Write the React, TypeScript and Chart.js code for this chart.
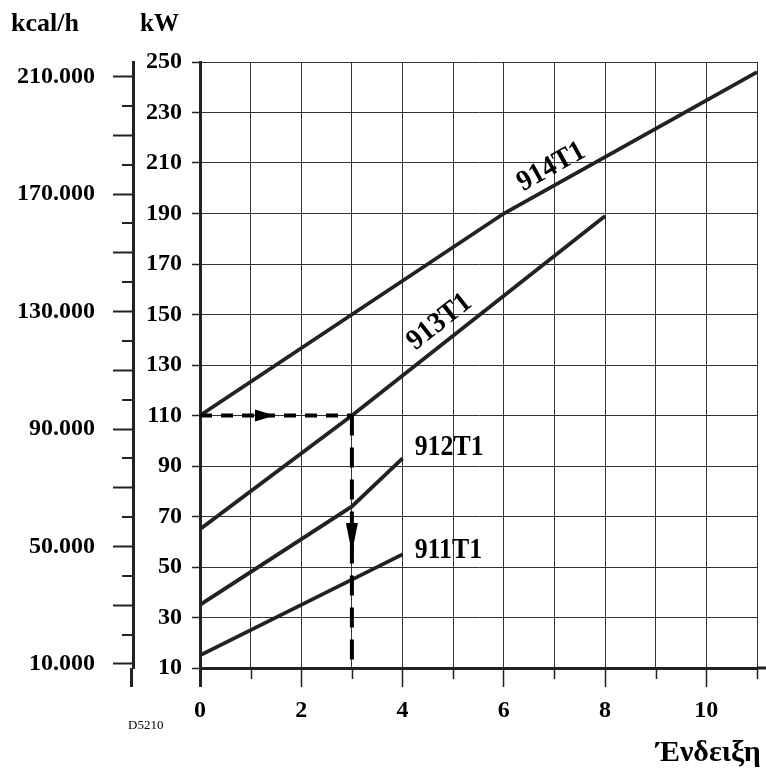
import React, { useEffect, useRef } from "react";
import { Chart, registerables } from "chart.js";

Chart.register(...registerables);

// ---- axis ranges ----
const X_MIN = 0;
const X_MAX = 11;
const KW_MIN = 10;
const KW_MAX = 250;
const KCAL_PER_KW = 860;

// ---- series (x = Ένδειξη, y = kW) ----
const X_914 = [0, 6, 11];
const KW_914 = [110, 190, 246];
const X_913 = [0, 3, 8];
const KW_913 = [65, 110, 189];
const X_912 = [0, 3, 4];
const KW_912 = [35, 74, 93];
const X_911 = [0, 4];
const KW_911 = [15, 55];

// ---- example reading (dashed) ----
const READ_H_X = [0, 3];
const READ_H_KW = [110, 110];
const READ_V_X = [3, 3];
const READ_V_KW = [110, 10];
const ARROW_RIGHT = [1.48, 110];
const ARROW_DOWN = [3, 55.5];

// ---- ticks ----
const X_TICK_LABELS = [0, 2, 4, 6, 8, 10];
const KCAL_TICKS = [
  10000, 20000, 30000, 40000, 50000, 60000, 70000, 80000, 90000, 100000, 110000,
  120000, 130000, 140000, 150000, 160000, 170000, 180000, 190000, 200000, 210000,
];
const KCAL_LABELS = [10000, 50000, 90000, 130000, 170000, 210000];

// ---- curve labels ----
const LABEL_TEXT = ["914T1", "913T1", "912T1", "911T1"];
const LABEL_X = [6.94, 4.73, 4.24, 4.24];
const LABEL_KW = [208.4, 147, 94.4, 53.6];

const SERIF = '"Liberation Serif", "Times New Roman", serif';
const LINE = "#222";

const pts = (xs: number[], ys: number[]) => xs.map((x, i) => ({ x, y: ys[i] }));
const fmtKcal = (v: number) => `${Math.round(v / 1000)}.000`;

const decor = {
  id: "decor",
  afterDatasetsDraw(chart: any) {
    const { ctx, scales } = chart;
    const x = scales.x;
    const y = scales.y;
    ctx.save();
    ctx.fillStyle = "#000";
    // right arrow
    let tx = x.getPixelForValue(ARROW_RIGHT[0]);
    let ty = y.getPixelForValue(ARROW_RIGHT[1]);
    ctx.beginPath();
    ctx.moveTo(tx, ty);
    ctx.lineTo(tx - 20, ty - 6);
    ctx.lineTo(tx - 20, ty + 6);
    ctx.closePath();
    ctx.fill();
    // down arrow
    tx = x.getPixelForValue(ARROW_DOWN[0]);
    ty = y.getPixelForValue(ARROW_DOWN[1]);
    ctx.beginPath();
    ctx.moveTo(tx, ty);
    ctx.lineTo(tx - 6, ty - 30);
    ctx.lineTo(tx + 6, ty - 30);
    ctx.closePath();
    ctx.fill();
    ctx.restore();
  },
  afterDraw(chart: any) {
    const { ctx, scales, chartArea, width } = chart;
    const x = scales.x;
    const y = scales.y;
    const k = scales.kcal;
    ctx.save();
    ctx.strokeStyle = LINE;
    // short x ticks (odd values)
    ctx.lineWidth = 1.5;
    for (let v = X_MIN; v <= X_MAX; v++) {
      if (v % 2 === 1) {
        const px = Math.round(x.getPixelForValue(v)) + 0.5;
        ctx.beginPath();
        ctx.moveTo(px, chartArea.bottom);
        ctx.lineTo(px, chartArea.bottom + 11);
        ctx.stroke();
      }
    }
    // short kcal ticks
    ctx.lineWidth = 2;
    KCAL_TICKS.forEach((v) => {
      if ((v / 10000) % 2 === 0) {
        const py = Math.round(k.getPixelForValue(v));
        ctx.beginPath();
        ctx.moveTo(k.right - 11, py);
        ctx.lineTo(k.right, py);
        ctx.stroke();
      }
    });
    // kcal axis extension
    ctx.lineWidth = 3;
    ctx.beginPath();
    ctx.moveTo(k.right - 1.5, chartArea.bottom);
    ctx.lineTo(k.right - 1.5, chartArea.bottom + 19);
    ctx.stroke();
    // bottom axis extension to the right
    ctx.beginPath();
    ctx.moveTo(chartArea.right, chartArea.bottom);
    ctx.lineTo(width, chartArea.bottom);
    ctx.stroke();

    // curve labels
    const series = [
      [X_914, KW_914, 1],
      [X_913, KW_913, 1],
      [X_912, KW_912, -1],
      [X_911, KW_911, -1],
    ] as any[];
    ctx.fillStyle = "#000";
    LABEL_TEXT.forEach((t, i) => {
      const px = x.getPixelForValue(LABEL_X[i]);
      const py = y.getPixelForValue(LABEL_KW[i]);
      const [xs, ys, seg] = series[i];
      ctx.save();
      ctx.translate(px, py);
      if (seg >= 0) {
        const a = Math.atan2(
          y.getPixelForValue(ys[seg + 1]) - y.getPixelForValue(ys[seg]),
          x.getPixelForValue(xs[seg + 1]) - x.getPixelForValue(xs[seg])
        );
        ctx.rotate(a);
        ctx.scale(0.95, 1);
        ctx.font = `bold 29px ${SERIF}`;
        ctx.textAlign = "center";
        ctx.textBaseline = "middle";
      } else {
        ctx.scale(0.89, 1);
        ctx.font = `bold 29px ${SERIF}`;
        ctx.textAlign = "left";
        ctx.textBaseline = "alphabetic";
      }
      ctx.fillText(t, 0, 0);
      ctx.restore();
    });

    // axis titles and reference
    ctx.textBaseline = "alphabetic";
    ctx.textAlign = "left";
    ctx.font = `bold 26px ${SERIF}`;
    ctx.fillText("kcal/h", 11, 31);
    ctx.font = `bold 25px ${SERIF}`;
    ctx.fillText("kW", 140, 31);
    ctx.font = `bold 30px ${SERIF}`;
    ctx.fillText("Ένδειξη", 656, 761);
    ctx.font = `13px ${SERIF}`;
    ctx.fillText("D5210", 128, 729);
    ctx.restore();
  },
};

export default function App() {
  const ref = useRef<HTMLCanvasElement | null>(null);

  useEffect(() => {
    if (!ref.current) return;
    const tickFont = { family: SERIF, size: 24, weight: "bold" as const };
    const lineDs = (data: any[]) => ({
      data,
      borderColor: LINE,
      borderWidth: 3.8,
      pointRadius: 0,
      tension: 0,
      fill: false,
      xAxisID: "x",
      yAxisID: "y",
    });
    const chart = new Chart(ref.current, {
      type: "line",
      data: {
        datasets: [
          {
            ...lineDs(pts(READ_H_X, READ_H_KW)),
            borderColor: "#000",
            borderWidth: 4,
            borderDash: [12, 9],
            borderCapStyle: "butt",
          },
          {
            ...lineDs(pts(READ_V_X, READ_V_KW)),
            borderColor: "#000",
            borderWidth: 4,
            borderDash: [20, 12],
            borderCapStyle: "butt",
          },
          lineDs(pts(X_914, KW_914)),
          lineDs(pts(X_913, KW_913)),
          lineDs(pts(X_912, KW_912)),
          lineDs(pts(X_911, KW_911)),
        ] as any,
      },
      options: {
        animation: false,
        responsive: false,
        devicePixelRatio: 1,
        layout: { padding: { top: 62, right: 9, left: 0, bottom: 0 } },
        plugins: {
          legend: { display: false },
          tooltip: { enabled: false },
          title: { display: false },
        },
        scales: {
          x: {
            type: "linear",
            position: "bottom",
            min: X_MIN,
            max: X_MAX,
            ticks: {
              stepSize: 1,
              autoSkip: false,
              maxRotation: 0,
              padding: 9,
              color: "#000",
              font: tickFont,
              callback: (v: any) => (X_TICK_LABELS.includes(Number(v)) ? String(v) : ""),
            },
            grid: {
              color: "#333",
              lineWidth: 1,
              tickLength: 19,
              tickColor: (c: any) => (c.tick && c.tick.value % 2 === 1 ? "rgba(0,0,0,0)" : LINE),
              tickWidth: (c: any) => (c.tick && c.tick.value === 0 ? 3 : 1.5),
            },
            border: { color: LINE, width: 3 },
            afterFit: (s: any) => {
              s.height = 103;
            },
          },
          y: {
            type: "linear",
            position: "left",
            weight: 0,
            min: KW_MIN,
            max: KW_MAX,
            ticks: {
              stepSize: 20,
              autoSkip: false,
              padding: 10,
              color: "#000",
              font: tickFont,
            },
            grid: {
              color: "#333",
              lineWidth: 1,
              tickLength: 8,
              tickColor: LINE,
              tickWidth: 1.5,
            },
            border: { color: LINE, width: 3 },
            afterFit: (s: any) => {
              s.width = 67;
            },
          },
          kcal: {
            type: "linear",
            position: "left",
            weight: 1,
            min: KW_MIN * KCAL_PER_KW,
            max: KW_MAX * KCAL_PER_KW,
            afterBuildTicks: (s: any) => {
              s.ticks = KCAL_TICKS.map((v) => ({ value: v }));
            },
            ticks: {
              autoSkip: false,
              padding: 18,
              color: "#000",
              font: tickFont,
              callback: (v: any) => (KCAL_LABELS.includes(Number(v)) ? fmtKcal(Number(v)) : ""),
            },
            grid: {
              drawOnChartArea: false,
              tickLength: 20,
              tickWidth: 2,
              tickColor: (c: any) =>
                c.tick && (c.tick.value / 10000) % 2 === 1 ? LINE : "rgba(0,0,0,0)",
            },
            border: { color: LINE, width: 3 },
            afterFit: (s: any) => {
              s.width = 133;
            },
          },
        } as any,
      },
      plugins: [decor],
    });
    return () => chart.destroy();
  }, []);

  return (
    <div style={{ position: "fixed", left: 0, top: 0, width: 766, height: 771, background: "#fff" }}>
      <canvas ref={ref} width={766} height={771} style={{ width: 766, height: 771, display: "block" }} />
    </div>
  );
}
